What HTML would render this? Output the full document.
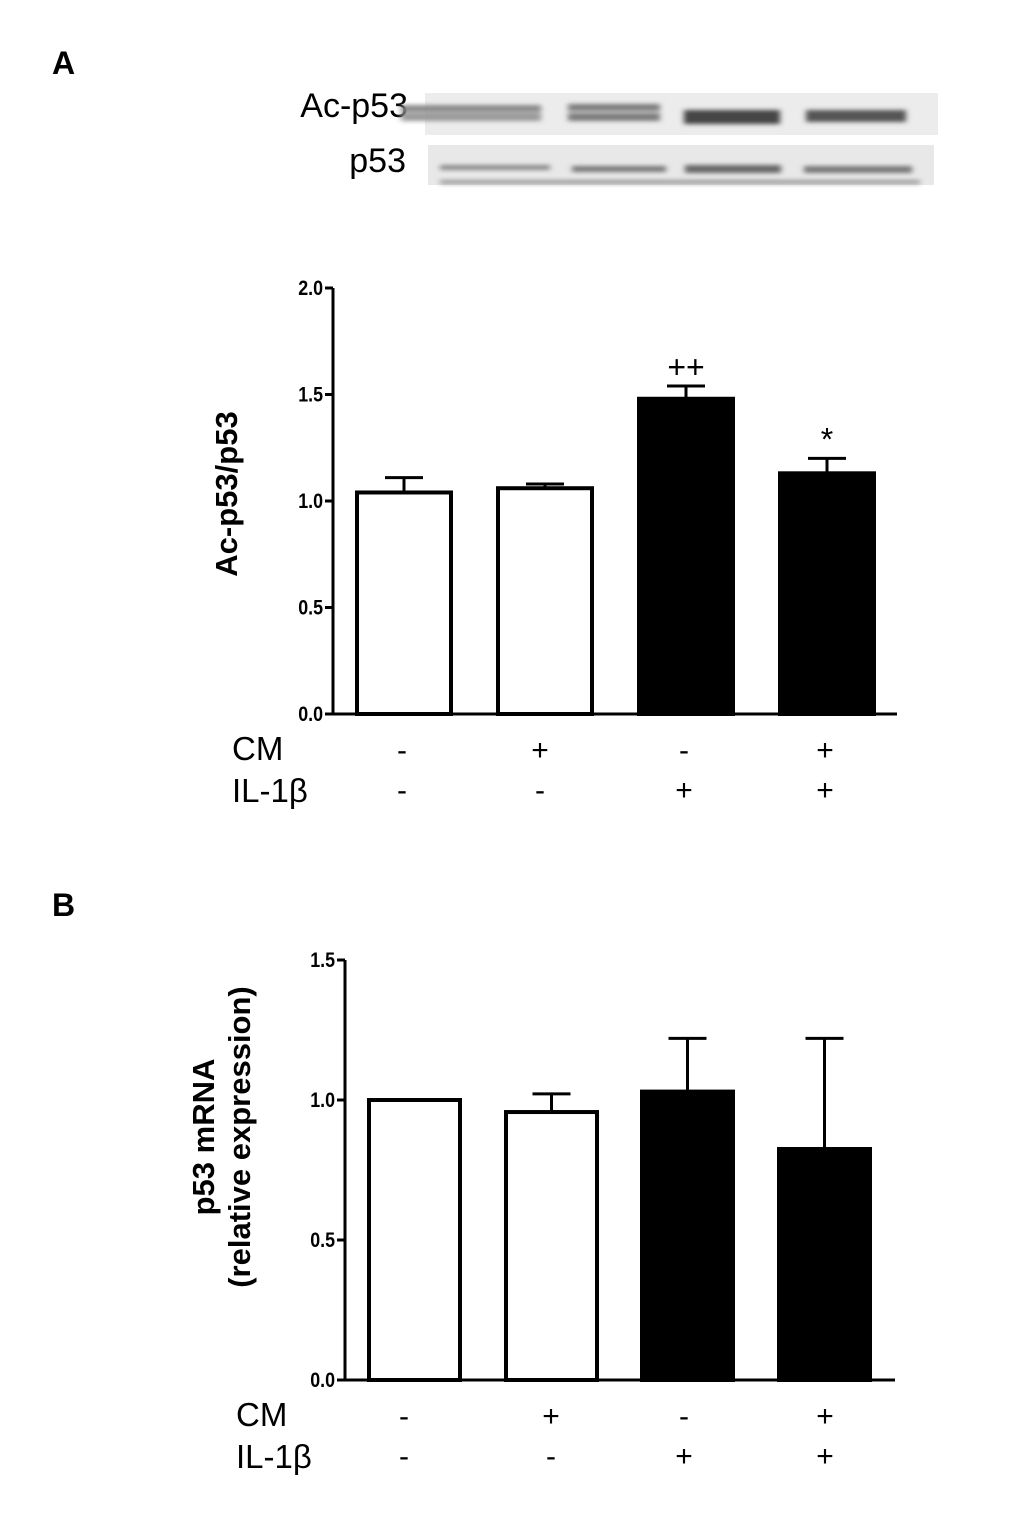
<!DOCTYPE html>
<html><head><meta charset="utf-8"><style>
body{margin:0;background:#fff;}
svg{display:block;font-family:"Liberation Sans",sans-serif;}
</style></head><body>
<svg id="fig" width="1020" height="1518" viewBox="0 0 1020 1518" xmlns="http://www.w3.org/2000/svg">
<defs>
<filter id="blur" x="-5%" y="-50%" width="110%" height="200%"><feGaussianBlur stdDeviation="3 2"/></filter>
</defs>
<text x="52" y="74" font-size="32" font-weight="bold">A</text>
<text x="52" y="916" font-size="32" font-weight="bold">B</text>
<g>
<text x="408" y="117" font-size="34" text-anchor="end">Ac-p53</text>
<text x="406" y="172" font-size="34" text-anchor="end">p53</text>
<rect x="425" y="93" width="513" height="42" fill="#ececec"/>
<rect x="428" y="145" width="506" height="40" fill="#e8e8e8"/>
<g filter="url(#blur)">
<rect x="403" y="102" width="0" height="0"/>
<rect x="405" y="105" width="140" height="7" fill="#888" transform="translate(-4,0)"/>
<rect x="405" y="113" width="140" height="8" fill="#999" transform="translate(-4,0)"/>
<rect x="568" y="104" width="92" height="7" fill="#7a7a7a"/>
<rect x="568" y="113" width="92" height="8" fill="#7a7a7a"/>
<rect x="684" y="110" width="96" height="14" fill="#444"/>
<rect x="806" y="110" width="100" height="12" fill="#555"/>
<rect x="440" y="165" width="110" height="5" fill="#888"/>
<rect x="440" y="180" width="480" height="4" fill="#999"/>
<rect x="572" y="166" width="94" height="6" fill="#777"/>
<rect x="685" y="165" width="96" height="8" fill="#666"/>
<rect x="804" y="166" width="108" height="7" fill="#777"/>
</g>
</g>
<g id="chartA"></g>
<g id="chartB"></g>
</svg>
<script>
const ticksA=["0.0","0.5","1.0","1.5","2.0"];
const tickValsA=[0,0.5,1,1.5,2];
const valuesA=[1.04,1.06,1.48,1.13];
const errorsA=[0.07,0.02,0.06,0.07];
const marksA=["","","++","*"];
const ticksB=["0.0","0.5","1.0","1.5"];
const tickValsB=[0,0.5,1,1.5];
const valuesB=[1.0,0.957,1.03,0.825];
const errorsB=[0,0.065,0.19,0.395];
const marksB=["","","",""];
const fills=["#fff","#fff","#000","#000"];
const cmRow=["-","+","-","+"];
const ilRow=["-","-","+","+"];
const NS="http://www.w3.org/2000/svg";
function mk(p,t,a){const e=document.createElementNS(NS,t);for(const k in a)e.setAttribute(k,a[k]);p.appendChild(e);return e;}
function chart(g,o){
 const y=v=>o.y0-(v/o.max)*(o.y0-o.yTop);
 let e=mk(g,'line',{x1:o.ax,y1:o.yTop,x2:o.ax,y2:o.y0,stroke:'#000','stroke-width':3});
 
 e=mk(g,'line',{x1:o.ax,y1:o.y0,x2:o.xEnd,y2:o.y0,stroke:'#000','stroke-width':3});
 
 o.tv.forEach((v,i)=>{
  e=mk(g,'line',{x1:o.ax-8,y1:y(v),x2:o.ax,y2:y(v),stroke:'#000','stroke-width':3});
  
  e=mk(g,'text',{x:o.ax-10,y:y(v)+7,'font-size':21,'font-weight':'bold','text-anchor':'end',transform:`scale(0.85,1) translate(${(o.ax-10)*(1/0.85-1)},0)`});
  e.textContent=o.tl[i];
  
 });
 o.vals.forEach((v,i)=>{
  const x=o.bx[i],w=o.bw,cx=x+w/2;
  if(o.err[i]>0){
   e=mk(g,'line',{x1:cx,y1:y(v),x2:cx,y2:y(v+o.err[i]),stroke:'#000','stroke-width':3});
   
   e=mk(g,'line',{x1:cx-19,y1:y(v+o.err[i]),x2:cx+19,y2:y(v+o.err[i]),stroke:'#000','stroke-width':3});
   
  }
  e=mk(g,'rect',{x:x,y:y(v),width:w,height:o.y0-y(v),fill:fills[i],stroke:'#000','stroke-width':4});
  
  if(o.marks[i]){
   e=mk(g,'text',{x:cx,y:y(v+o.err[i])-8,'font-size':32,'text-anchor':'middle'});
   e.textContent=o.marks[i];
   
  }
  e=mk(g,'text',{x:o.lx[i],y:o.y0+46,'font-size':30,'text-anchor':'middle'});
  e.textContent=cmRow[i];
  e=mk(g,'text',{x:o.lx[i],y:o.y0+86,'font-size':30,'text-anchor':'middle'});
  e.textContent=ilRow[i];
 });
 e=mk(g,'text',{x:o.rx,y:o.y0+46,'font-size':33});e.textContent='CM';
 
 e=mk(g,'text',{x:o.rx,y:o.y0+88,'font-size':33});e.textContent='IL-1β';
 
 o.ylab.forEach((t,i)=>{
  const lx=o.ylx+i*36;
  e=mk(g,'text',{x:lx,y:o.yly,'font-size':31,'font-weight':'bold','text-anchor':'middle',transform:`rotate(-90 ${lx} ${o.yly})`});
  e.textContent=t;
 });
}
chart(document.getElementById('chartA'),{ax:333,y0:714,yTop:288,max:2,xEnd:897,tv:tickValsA,tl:ticksA,vals:valuesA,err:errorsA,marks:marksA,
 bx:[357,498,639,780],bw:94,lx:[402,540,684,825],rx:232,ylab:['Ac-p53/p53'],ylx:237,yly:494});
chart(document.getElementById('chartB'),{ax:345,y0:1380,yTop:960,max:1.5,xEnd:895,tv:tickValsB,tl:ticksB,vals:valuesB,err:errorsB,marks:marksB,
 bx:[369,506,642,779],bw:91,lx:[404,551,684,825],rx:236,ylab:['p53 mRNA','(relative expression)'],ylx:214,yly:1137});
</script>
</body></html>
